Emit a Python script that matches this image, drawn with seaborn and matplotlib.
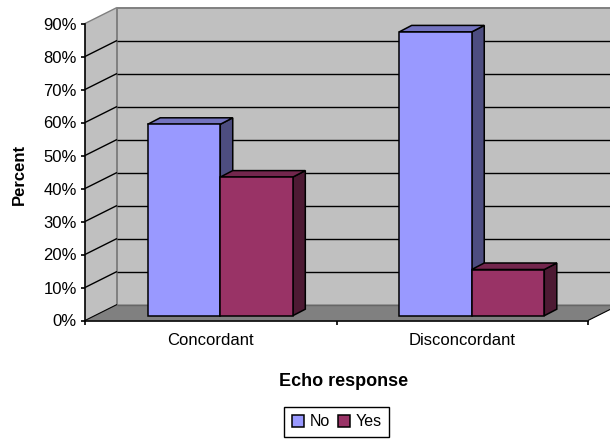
import pandas as pd
import seaborn as sns
import matplotlib.pyplot as plt
from matplotlib.patches import Polygon
from matplotlib.transforms import IdentityTransform, Affine2D

# values
categories = ['Concordant', 'Disconcordant']
no_values = [58, 86]
yes_values = [42, 14]
series_names = ['No', 'Yes']
y_ticks = [0, 10, 20, 30, 40, 50, 60, 70, 80, 90]
y_labels = ['0%', '10%', '20%', '30%', '40%', '50%', '60%', '70%', '80%', '90%']

colors = ['#9999FF', '#993366']
top_colors = ['#7373BF', '#73264D']
side_colors = ['#4D4D80', '#4D1A33']

df = pd.DataFrame({
    'response': categories * 2,
    'group': ['No'] * 2 + ['Yes'] * 2,
    'percent': no_values + yes_values,
})

sns.set_style('white')
plt.rcParams['font.family'] = ['Liberation Sans', 'DejaVu Sans']
plt.rcParams['text.color'] = 'black'

W, H = 610, 441
fig = plt.figure(figsize=(W / 100, H / 100), dpi=100)
ax = fig.add_axes([85 / W, (H - 320.5) / H, (588 - 85) / W, 297 / H])
ax.patch.set_visible(False)

sns.barplot(data=df, x='response', y='percent', hue='group', hue_order=series_names,
            palette=colors, saturation=1, width=0.577, gap=0,
            edgecolor='black', linewidth=1.1, ax=ax, zorder=5)
ax.set_xlim(-0.5, 1.5)
ax.set_ylim(0, 90)

# depth of the box and where the bars stand inside it, in pixels
box_dx, box_dy = 32, 16
bar_dx, bar_dy = 9.5, 4.8
side_dx, side_dy = 12.5, 6.5


def px(x, y):
    return ax.transData.transform((x, y))


def face(points, color, edge='none', lw=1, z=1):
    ax.add_patch(Polygon(points, closed=True, facecolor=color, edgecolor=edge, linewidth=lw,
                         transform=IdentityTransform(), clip_on=False, zorder=z))


def line(p0, p1, color='black', lw=1, z=2):
    ax.plot([p0[0], p1[0]], [p0[1], p1[1]], color=color, lw=lw, transform=IdentityTransform(),
            clip_on=False, zorder=z, solid_capstyle='butt', scalex=False, scaley=False)


box = (box_dx, box_dy)
bl, br = px(-0.5, 0), px(1.5, 0)
tl, tr = px(-0.5, 90), px(1.5, 90)

# back wall, side wall, floor
face([bl + box, br + box, tr + box, tl + box], '#C0C0C0')
face([bl, bl + box, tl + box, tl], '#C0C0C0')
face([bl, br, br + box, bl + box], '#808080')
line(tl + box, tr + box, '#808080', 1.4)
line(bl + box, tl + box, '#808080', 1.4)
line(tl, tl + box, '#808080', 1)
line(bl + box, br + box, '#666666', 1)

# gridlines go along the side wall then across the back
for v in y_ticks[1:]:
    left = px(-0.5, v)
    right = px(1.5, v)
    if v < 90:
        line(left, left + box)
        line(left + box, right + box)
line(bl, bl + box, 'black', 0.8, 3)
line(br, br + box, 'black', 0.8, 3)

# move the seaborn bars back into the box and give them depth
shift = ax.transData + Affine2D().translate(bar_dx, bar_dy)
z = 5
for i, bars in enumerate(ax.containers):
    for bar in bars:
        x0, x1 = bar.get_x(), bar.get_x() + bar.get_width()
        h = bar.get_height()
        d = (side_dx, side_dy)
        a = shift.transform((x0, h))
        b = shift.transform((x1, h))
        c = shift.transform((x1, 0))
        face([c, b, b + d, c + d], side_colors[i], 'black', 1.1, z)
        face([a, b, b + d, a + d], top_colors[i], 'black', 1.1, z)
        bar.set_transform(shift)
        bar.set_clip_on(False)
        bar.set_zorder(z + 0.5)
        z += 1

# axes
sns.despine(ax=ax)
for s in ['left', 'bottom']:
    ax.spines[s].set_color('black')
    ax.spines[s].set_linewidth(1.2)
    ax.spines[s].set_zorder(20)
ax.set_yticks(y_ticks)
ax.set_yticklabels(y_labels, fontsize=12)
ax.set_xticks([0, 1])
ax.set_xticklabels(categories, fontsize=12)
ax.set_xticks([-0.5, 0.5, 1.5], minor=True)
ax.tick_params(axis='y', left=True, length=3, width=1.2, color='black', pad=3, labelcolor='black')
ax.tick_params(axis='x', which='major', bottom=False, pad=5.5, labelcolor='black')
ax.tick_params(axis='x', which='minor', bottom=True, length=3, width=1.2, color='black')

ax.set_xlabel('')
ax.set_ylabel('')
fig.text(344 / W, 1 - 381 / H, 'Echo response', fontsize=13, fontweight='bold', ha='center', va='center')
fig.text(19 / W, 1 - 174.5 / H, 'Percent', fontsize=12, fontweight='bold', rotation=90, ha='center', va='center')

# legend
handles, labels = ax.get_legend_handles_labels()
ax.get_legend().remove()
leg = fig.legend(handles, labels, ncol=2, loc='center', bbox_to_anchor=(336.5 / W, 1 - 422 / H),
                 frameon=True, fancybox=False, edgecolor='black', framealpha=1, fontsize=11.5,
                 handlelength=0.75, handleheight=0.75, handletextpad=0.35, columnspacing=0.5,
                 borderpad=0.5, borderaxespad=0)
leg.get_frame().set_linewidth(1)

fig.savefig('out.png', dpi=100)
